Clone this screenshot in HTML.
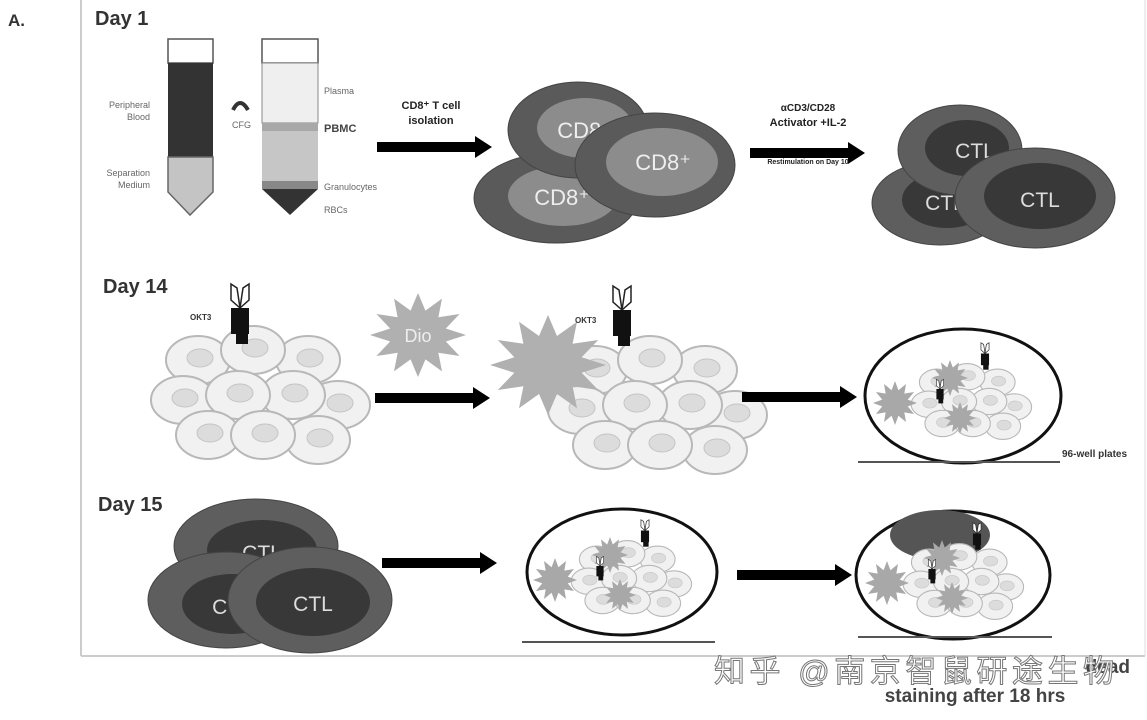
<!DOCTYPE html>
<html><head><meta charset="utf-8"><style>
html,body{margin:0;padding:0;background:#fff;}
svg{display:block;font-family:"Liberation Sans","Noto Sans CJK SC",sans-serif;}
</style></head><body>
<svg width="1147" height="720" viewBox="0 0 1147 720" xmlns="http://www.w3.org/2000/svg">
<defs>
<polygon id="star" points="1,0 .58,.155 .866,.5 .424,.424 .5,.866 .155,.58 0,1 -.155,.58 -.5,.866 -.424,.424 -.866,.5 -.58,.155 -1,0 -.58,-.155 -.866,-.5 -.424,-.424 -.5,-.866 -.155,-.58 0,-1 .155,-.58 .5,-.866 .424,-.424 .866,-.5 .58,-.155"/>
<g id="cell"><ellipse rx="32" ry="24" fill="#f1f1f1" stroke="#b8b8b8" stroke-width="2"/><ellipse cx="2" cy="-2" rx="13" ry="9" fill="#dcdcdc" stroke="#c4c4c4"/></g>
<g id="cluster">
<use href="#cell" x="40" y="35"/><use href="#cell" x="150" y="35"/><use href="#cell" x="95" y="25"/>
<use href="#cell" x="25" y="75"/><use href="#cell" x="180" y="80"/><use href="#cell" x="135" y="70"/><use href="#cell" x="80" y="70"/>
<use href="#cell" x="50" y="110"/><use href="#cell" x="160" y="115"/><use href="#cell" x="105" y="110"/>
</g>
<g id="ab"><path d="M-9,-34 L-9,-18 L0,-10 L-3,-30 Z M9,-34 L9,-18 L0,-10 L3,-30 Z" fill="#fff" stroke="#222" stroke-width="1.5"/><rect x="-9" y="-10" width="18" height="26" fill="#111"/><rect x="-4" y="14" width="12" height="12" fill="#111"/></g>
<g id="arrow"><rect x="0" y="-5" width="100" height="10" fill="#000"/><polygon points="98,-11 115,0 98,11" fill="#000"/></g>
<g id="well">
<use href="#cluster" transform="translate(-55,-35) scale(0.55)"/>
<use href="#star" transform="translate(-75,5) scale(22)" fill="#a8a8a8"/>
<use href="#star" transform="translate(-20,-20) scale(18)" fill="#a8a8a8"/>
<use href="#star" transform="translate(-10,20) scale(16)" fill="#a8a8a8"/>
<use href="#ab" transform="translate(-30,-5) scale(0.4)"/>
<use href="#ab" transform="translate(15,-40) scale(0.45)"/>
</g>
</defs>

<line x1="81" y1="0" x2="81" y2="656" stroke="#ccc" stroke-width="2"/>
<line x1="81" y1="656" x2="1145" y2="656" stroke="#ccc" stroke-width="2"/>
<line x1="1145" y1="0" x2="1145" y2="656" stroke="#ddd" stroke-width="1"/>

<text x="8" y="26" font-size="17" font-weight="bold" fill="#333">A.</text>
<text x="95" y="25" font-size="20" font-weight="bold" fill="#333">Day 1</text>

<rect x="168" y="39" width="45" height="24" fill="#fff" stroke="#555" stroke-width="1.5"/>
<rect x="168" y="63" width="45" height="94" fill="#333"/>
<polygon points="168,157 213,157 213,192 190,215 168,192" fill="#c4c4c4" stroke="#666" stroke-width="1.5"/>
<g font-size="9" fill="#666" text-anchor="end">
<text x="150" y="108">Peripheral</text><text x="150" y="120">Blood</text>
<text x="150" y="176">Separation</text><text x="150" y="188">Medium</text></g>
<path d="M233,110 q7,-14 15,0" fill="none" stroke="#333" stroke-width="4"/>
<text x="232" y="128" font-size="9" fill="#666">CFG</text>
<rect x="262" y="39" width="56" height="24" fill="#fff" stroke="#555" stroke-width="1.5"/>
<rect x="262" y="63" width="56" height="60" fill="#efefef" stroke="#888"/>
<rect x="262" y="123" width="56" height="8" fill="#a8a8a8"/>
<rect x="262" y="131" width="56" height="50" fill="#c6c6c6"/>
<rect x="262" y="181" width="56" height="8" fill="#888"/>
<polygon points="262,189 318,189 290,215" fill="#333"/>
<g font-size="9" fill="#666"><text x="324" y="94">Plasma</text><text x="324" y="190">Granulocytes</text><text x="324" y="213">RBCs</text></g>
<text x="324" y="132" font-size="11" font-weight="bold" fill="#444">PBMC</text>

<use href="#arrow" x="377" y="147"/>
<g font-size="11" font-weight="bold" fill="#222" text-anchor="middle"><text x="431" y="109">CD8⁺ T cell</text><text x="431" y="124">isolation</text></g>

<g font-size="22" fill="#eee" text-anchor="middle">
<ellipse cx="556" cy="198" rx="82" ry="45" fill="#5a5a5a" stroke="#444"/><ellipse cx="563" cy="196" rx="55" ry="30" fill="#8c8c8c"/><text x="562" y="205">CD8⁺</text>
<ellipse cx="578" cy="130" rx="70" ry="48" fill="#5a5a5a" stroke="#444"/><ellipse cx="585" cy="128" rx="48" ry="30" fill="#8c8c8c"/><text x="585" y="138">CD8⁺</text>
<ellipse cx="655" cy="165" rx="80" ry="52" fill="#5a5a5a" stroke="#444"/><ellipse cx="662" cy="162" rx="56" ry="34" fill="#8c8c8c"/><text x="663" y="170">CD8⁺</text>
</g>

<use href="#arrow" x="750" y="153"/>
<g font-weight="bold" fill="#222" text-anchor="middle"><text x="808" y="111" font-size="10">αCD3/CD28</text><text x="808" y="126" font-size="11">Activator +IL-2</text><text x="808" y="164" font-size="7">Restimulation on Day 10</text></g>

<g font-size="21" fill="#ddd" text-anchor="middle">
<ellipse cx="940" cy="203" rx="68" ry="42" fill="#5e5e5e" stroke="#444"/><ellipse cx="947" cy="200" rx="45" ry="28" fill="#383838"/><text x="945" y="210">CTL</text>
<ellipse cx="960" cy="150" rx="62" ry="45" fill="#5e5e5e" stroke="#444"/><ellipse cx="967" cy="148" rx="42" ry="28" fill="#383838"/><text x="975" y="158">CTL</text>
<ellipse cx="1035" cy="198" rx="80" ry="50" fill="#5e5e5e" stroke="#444"/><ellipse cx="1040" cy="196" rx="56" ry="33" fill="#383838"/><text x="1040" y="207">CTL</text>
</g>

<text x="103" y="293" font-size="20" font-weight="bold" fill="#333">Day  14</text>
<use href="#cluster" x="158" y="325"/>
<use href="#ab" x="240" y="318"/>
<text x="190" y="320" font-size="8" font-weight="bold" fill="#333">OKT3</text>
<use href="#arrow" x="375" y="398"/>
<use href="#star" transform="translate(418,335) scale(48,42)" fill="#b0b0b0"/>
<text x="418" y="342" font-size="18" fill="#eee" text-anchor="middle">Dio</text>
<use href="#cluster" x="555" y="335"/>
<use href="#star" transform="translate(548,365) scale(58,50)" fill="#b0b0b0"/>
<use href="#ab" x="622" y="320"/>
<text x="575" y="323" font-size="8" font-weight="bold" fill="#333">OKT3</text>
<use href="#arrow" x="742" y="397"/>

<ellipse cx="963" cy="396" rx="98" ry="67" fill="#fff" stroke="#111" stroke-width="3"/>
<use href="#well" x="970" y="398"/>
<line x1="858" y1="462" x2="1060" y2="462" stroke="#555" stroke-width="2"/>
<text x="1062" y="457" font-size="10" font-weight="bold" fill="#333">96-well plates</text>

<text x="98" y="511" font-size="20" font-weight="bold" fill="#333">Day  15</text>
<g font-size="21" fill="#ddd" text-anchor="middle">
<ellipse cx="256" cy="546" rx="82" ry="47" fill="#5e5e5e" stroke="#444"/><ellipse cx="262" cy="550" rx="55" ry="30" fill="#383838"/><text x="262" y="560">CTL</text>
<ellipse cx="226" cy="600" rx="78" ry="48" fill="#5e5e5e" stroke="#444"/><ellipse cx="232" cy="604" rx="50" ry="30" fill="#383838"/><text x="232" y="614">CTL</text>
<ellipse cx="310" cy="600" rx="82" ry="53" fill="#5e5e5e" stroke="#444"/><ellipse cx="313" cy="602" rx="57" ry="34" fill="#383838"/><text x="313" y="611">CTL</text>
</g>
<use href="#arrow" x="382" y="563"/>
<ellipse cx="622" cy="572" rx="95" ry="63" fill="#fff" stroke="#111" stroke-width="3"/>
<use href="#well" x="630" y="575"/>
<line x1="522" y1="642" x2="715" y2="642" stroke="#555" stroke-width="2"/>
<use href="#arrow" x="737" y="575"/>
<ellipse cx="953" cy="575" rx="97" ry="64" fill="#fff" stroke="#111" stroke-width="3"/>
<ellipse cx="940" cy="535" rx="50" ry="25" fill="#555"/>
<use href="#well" x="962" y="578"/>
<line x1="858" y1="637" x2="1052" y2="637" stroke="#555" stroke-width="2"/>

<text x="1130" y="673" font-size="19" font-weight="bold" fill="#444" text-anchor="end">dead</text>
<text x="975" y="702" font-size="19" font-weight="bold" fill="#444" text-anchor="middle">staining after 18 hrs</text>
<text x="714" y="682" font-size="31" fill="#fff" stroke="#777" stroke-width="1" textLength="400">知乎 @南京智鼠研途生物</text>
</svg>
</body></html>
